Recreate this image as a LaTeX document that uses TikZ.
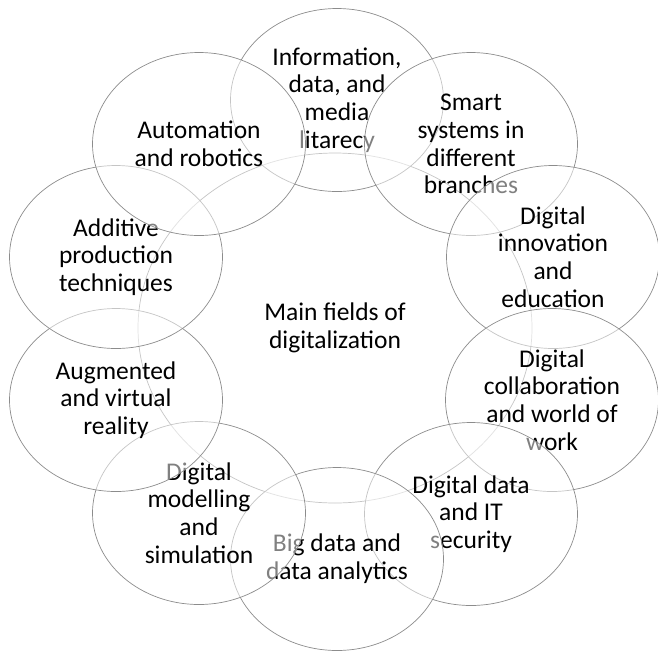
\documentclass[tikz,border=0pt]{standalone}
\usepackage{fontspec}
\setmainfont{Carlito}
\usetikzlibrary{shapes.geometric}
\definecolor{ringgray}{RGB}{140,140,140}
\begin{document}
\begin{tikzpicture}[x=1pt,y=-1pt,
  field/.style={ellipse, draw=ringgray, line width=0.7pt, fill=white,
    fill opacity=0.5, text opacity=1, minimum width=213pt, minimum height=183pt,
    inner sep=0pt, align=center, font=\fontsize{25.5}{27.8}\selectfont},
  hub/.style={field, minimum width=394pt, minimum height=350pt}]
\useasboundingbox (0,0) rectangle (658,654);
\node[hub] (hub) at (335,328) {Main fields of\\digitalization};
\node[field] (info) at (337,100) {Information,\\data, and\\media\\litarecy};
\node[field] (smart) at (471,144) {Smart\\systems in\\different\\branches};
\node[field] (innov) at (553,257) {Digital\\innovation\\and\\education};
\node[field] (collab) at (552,400) {Digital\\collaboration\\and world of\\work};
\node[field] (data) at (471,514) {Digital data\\and IT\\security};
\node[field] (big) at (337,559) {Big data and\\data analytics};
\node[field] (model) at (199,513) {Digital\\modelling\\and\\simulation};
\node[field] (augm) at (116,400) {Augmented\\and virtual\\reality};
\node[field] (addit) at (116,257) {Additive\\production\\techniques};
\node[field] (autom) at (199,144) {Automation\\and robotics};
\end{tikzpicture}
\end{document}
